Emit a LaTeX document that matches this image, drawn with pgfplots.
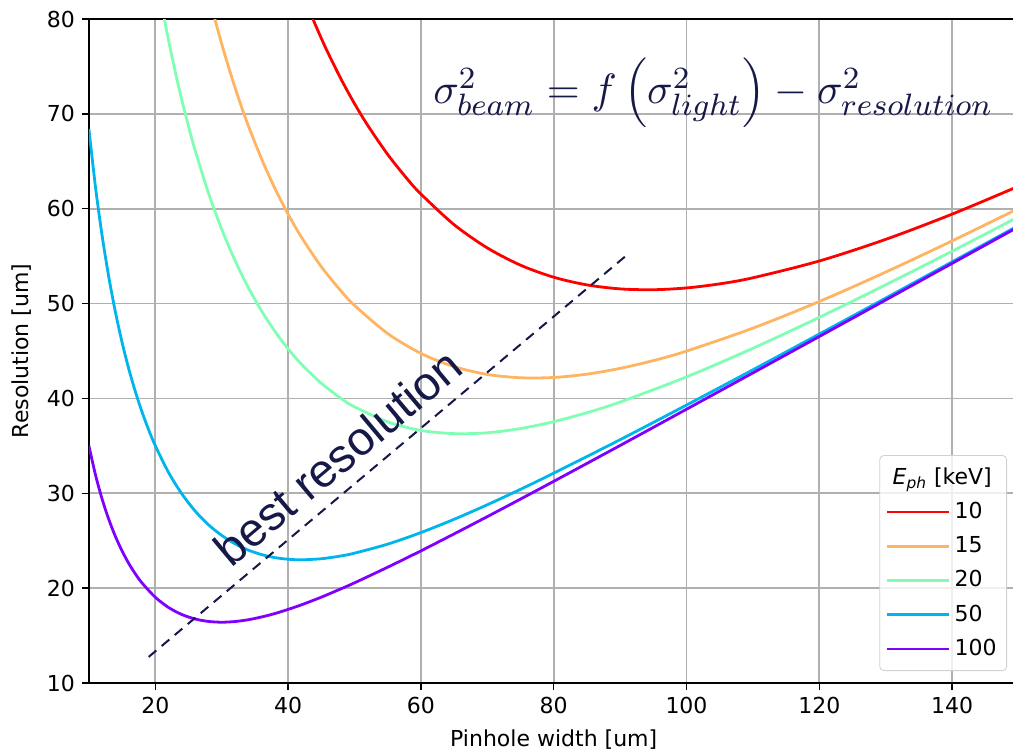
\documentclass[border=0pt]{standalone}
\usepackage{pgfplots}
\pgfplotsset{compat=1.18}
\usepackage{graphicx}
\usepackage{fontspec}
\setmainfont{DejaVu Sans}
\newfontfamily\arialfont{Liberation Sans}

\definecolor{c10}{RGB}{255,0,0}
\definecolor{c15}{RGB}{255,180,98}
\definecolor{c20}{RGB}{128,255,180}
\definecolor{c50}{RGB}{0,180,236}
\definecolor{c100}{RGB}{128,0,255}
\definecolor{navy}{RGB}{22,24,72}
\definecolor{gridgray}{RGB}{176,176,176}

\begin{document}
\begin{tikzpicture}[font=\fontsize{11}{13}\selectfont]
\begin{axis}[
  scale only axis,
  width=464.8pt, height=332pt,
  xmin=10, xmax=150, ymin=10, ymax=80,
  xtick={20,40,...,140},
  ytick={10,20,...,80},
  /pgf/number format/assume math mode=true,
  tick align=outside, tick pos=left,
  major tick length=3.5pt,
  tick style={black, line width=0.7pt},
  axis line style={black, line width=0.7pt},
  grid=major,
  major grid style={gridgray, line width=0.9pt},
  xlabel={Pinhole width [um]},
  ylabel={Resolution [um]},
  xlabel style={at={(axis description cs:0.5,0)}, anchor=center, yshift=-28.5pt},
  ylabel style={at={(axis description cs:0,0.5)}, anchor=center, yshift=33.5pt},
  legend style={
    at={(axis description cs:1,0)}, anchor=south east,
    xshift=-5.75pt, yshift=6pt,
    draw=black!18, rounded corners=2pt,
    fill=white, fill opacity=0.8, text opacity=1,
    inner xsep=3pt, inner ysep=4pt,
    row sep=3.5pt,
    cells={anchor=west},
  },
  legend image code/.code={
    \path (0pt,0pt) -- (31pt,0pt);
    \draw[#1] (0pt,0pt) -- (24.5pt,0pt);},
  every axis plot/.append style={line width=1.4pt, smooth},
]
\addlegendimage{empty legend}
\addlegendentry{\hspace*{-31pt}{\itshape E}\textsubscript{\itshape ph} [keV]}

\addplot[c10] coordinates {
(43,81.26) (44,79.57) (45,77.97) (46,76.45) (48,73.63) (50,71.08) (52,68.78)
(55,65.72) (58,63.09) (60,61.55) (65,58.32) (70,55.87) (75,54.05) (80,52.78)
(85,51.97) (90,51.55) (95,51.46) (100,51.65) (105,52.08) (110,52.72)
(120,54.49) (130,56.77) (140,59.43) (150,62.37)
};
\addlegendentry{10}

\addplot[c15] coordinates {
(28,82.68) (29,79.93) (30,77.38) (31,75.00) (32,72.78) (33,70.71) (34,68.77)
(36,65.26) (38,62.16) (40,59.43) (42,57.01) (45,53.89) (48,51.30) (50,49.81)
(55,46.84) (60,44.75) (65,43.35) (70,42.53) (75,42.18) (80,42.21) (85,42.56)
(90,43.17) (95,43.99) (100,44.99) (110,47.41) (120,50.22) (130,53.32)
(140,56.61) (150,60.03)
};
\addlegendentry{15}

\addplot[c20] coordinates {
(20,85.35) (21,81.36) (22,77.74) (23,74.45) (24,71.44) (25,68.69) (26,66.15)
(28,61.67) (30,57.84) (32,54.55) (34,51.70) (36,49.23) (38,47.09) (40,45.23)
(42,43.62) (45,41.60) (48,39.99) (50,39.12) (55,37.53) (60,36.63) (65,36.29)
(70,36.38) (75,36.83) (80,37.55) (85,38.50) (90,39.62) (100,42.27)
(110,45.29) (120,48.55) (130,51.98) (140,55.52) (150,59.15)
};
\addlegendentry{20}

\addplot[c50] coordinates {
(10,68.41) (11,62.24) (12,57.11) (13,52.78) (14,49.09) (15,45.90) (16,43.13)
(17,40.71) (18,38.58) (19,36.69) (20,35.02) (22,32.19) (24,29.94) (26,28.13)
(28,26.69) (30,25.56) (32,24.68) (34,24.01) (36,23.54) (38,23.22) (40,23.05)
(42,22.99) (45,23.10) (48,23.40) (50,23.69) (55,24.64) (60,25.86) (65,27.26)
(70,28.79) (75,30.42) (80,32.12) (90,35.65) (100,39.30) (110,43.02)
(120,46.79) (130,50.58) (140,54.40) (150,58.23)
};
\addlegendentry{50}

\addplot[c100] coordinates {
(10,35.01) (11,31.92) (12,29.37) (13,27.24) (14,25.44) (15,23.92) (16,22.61)
(17,21.50) (18,20.55) (20,19.04) (22,17.96) (24,17.22) (26,16.75) (28,16.49)
(30,16.41) (32,16.48) (34,16.67) (36,16.96) (38,17.32) (40,17.76) (42,18.24)
(45,19.05) (48,19.94) (50,20.56) (55,22.21) (60,23.93) (65,25.72) (70,27.54)
(75,29.39) (80,31.26) (90,35.04) (100,38.86) (110,42.69) (120,46.53)
(130,50.38) (140,54.24) (150,58.10)
};
\addlegendentry{100}

\addplot[navy, line width=1pt, sharp plot, dash pattern=on 5pt off 3.5pt, forget plot]
  coordinates {(19,12.75) (91.5,55.4)};

\node[rotate=40, inner sep=0, text=navy, font=\arialfont\fontsize{23.5}{27}\selectfont]
  at (axis cs:47.5,33.8) {best resolution};
\node[anchor=base west, inner sep=0, text=navy]
  at (axis cs:61.8,71.1)
  {\resizebox{280pt}{!}{$\sigma^2_{beam}=f\left(\sigma^2_{light}\right)-\sigma^2_{resolution}$}};
\end{axis}
\pgfresetboundingbox
\useasboundingbox (-44.45pt,-34.5pt) rectangle (462.05pt,341.5pt);
\end{tikzpicture}
\end{document}
